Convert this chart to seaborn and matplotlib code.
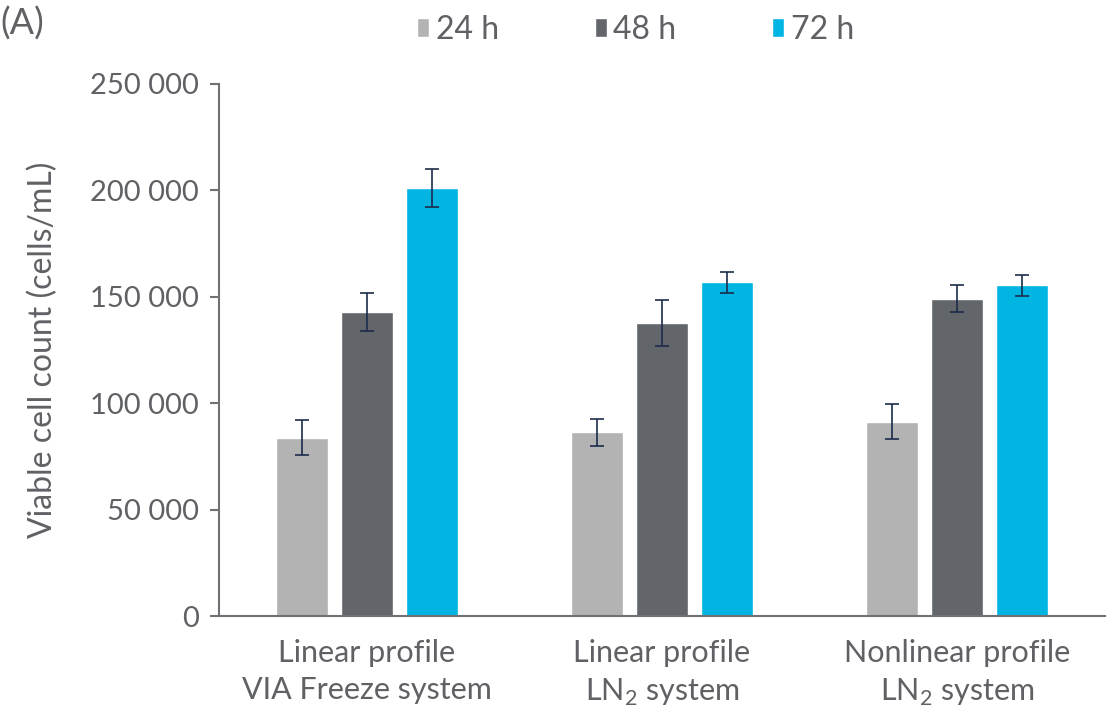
import pandas as pd
import matplotlib.pyplot as plt
from matplotlib.ticker import FuncFormatter
import seaborn as sns

# values
conditions = ['Linear profile\nVIA Freeze system',
              'Linear profile\nLN$_\\mathregular{2}$ system',
              'Nonlinear profile\nLN$_\\mathregular{2}$ system']
times = ['24 h', '48 h', '72 h']
count_24h = [83800, 86300, 91300]
count_48h = [142700, 137700, 149100]
count_72h = [201000, 156800, 155400]
err_24h = [8200, 6300, 8300]
err_48h = [8900, 10800, 6300]
err_72h = [9000, 5100, 5000]

colors = ['#b2b3b2', '#626569', '#00b5e2']
text_col = '#5f6165'
axis_col = '#707174'

df = pd.DataFrame({
    'Condition': conditions * 3,
    'Time': [t for t in times for _ in conditions],
    'Count': count_24h + count_48h + count_72h,
})
errs = [err_24h, err_48h, err_72h]

sns.set_style('white')
plt.rcParams['font.family'] = ['Lato', 'DejaVu Sans']
plt.rcParams['mathtext.fontset'] = 'custom'
plt.rcParams['mathtext.rm'] = 'Lato'

fig = plt.figure(figsize=(11.07, 7.24), dpi=100)
ax = fig.add_axes([0.198, 0.149, 0.8, 0.735])

sns.barplot(data=df, x='Condition', y='Count', hue='Time', order=conditions,
            hue_order=times, palette=colors, width=0.66, gap=0.2,
            errorbar=None, saturation=1, ax=ax)

# error bars on top of each bar
for cont, e in zip(ax.containers, errs):
    xs = [b.get_x() + b.get_width() / 2 for b in cont]
    ys = [b.get_height() for b in cont]
    ax.errorbar(xs, ys, yerr=e, fmt='none', ecolor='#1d2c4c',
                elinewidth=1.2, capsize=5, capthick=1.2, zorder=5)

ax.set_xlim(-0.5, 2.5)
ax.set_ylim(0, 250000)
ax.set_yticks(range(0, 250001, 50000))
ax.yaxis.set_major_formatter(FuncFormatter(lambda v, p: f'{int(v):,}'.replace(',', ' ')))

sns.despine(ax=ax)
for s in ['left', 'bottom']:
    ax.spines[s].set_color(axis_col)
    ax.spines[s].set_linewidth(1.5)

ax.tick_params(axis='y', left=True, length=6.5, width=1.5, color=axis_col,
               labelsize=21, labelcolor=text_col, pad=8)
ax.tick_params(axis='x', bottom=False, labelsize=22, labelcolor=text_col, pad=13)
for lbl in ax.get_xticklabels():
    lbl.set_linespacing(1.4)

ax.set_xlabel('')
ax.set_ylabel('Viable cell count (cells/mL)', fontsize=23, color=text_col)
ax.yaxis.set_label_coords(-0.182, 0.5)

sns.move_legend(ax, 'center', bbox_to_anchor=(0.574, 0.959),
                bbox_transform=fig.transFigure, ncol=3, frameon=False, title=None,
                fontsize=23, handlelength=0.38, handleheight=0.55,
                handletextpad=0.2, columnspacing=3.0, labelcolor=text_col)

fig.text(0.0, 0.968, '(A)', fontsize=26, color=text_col, ha='left', va='center')

fig.savefig('out.png', dpi=100)
